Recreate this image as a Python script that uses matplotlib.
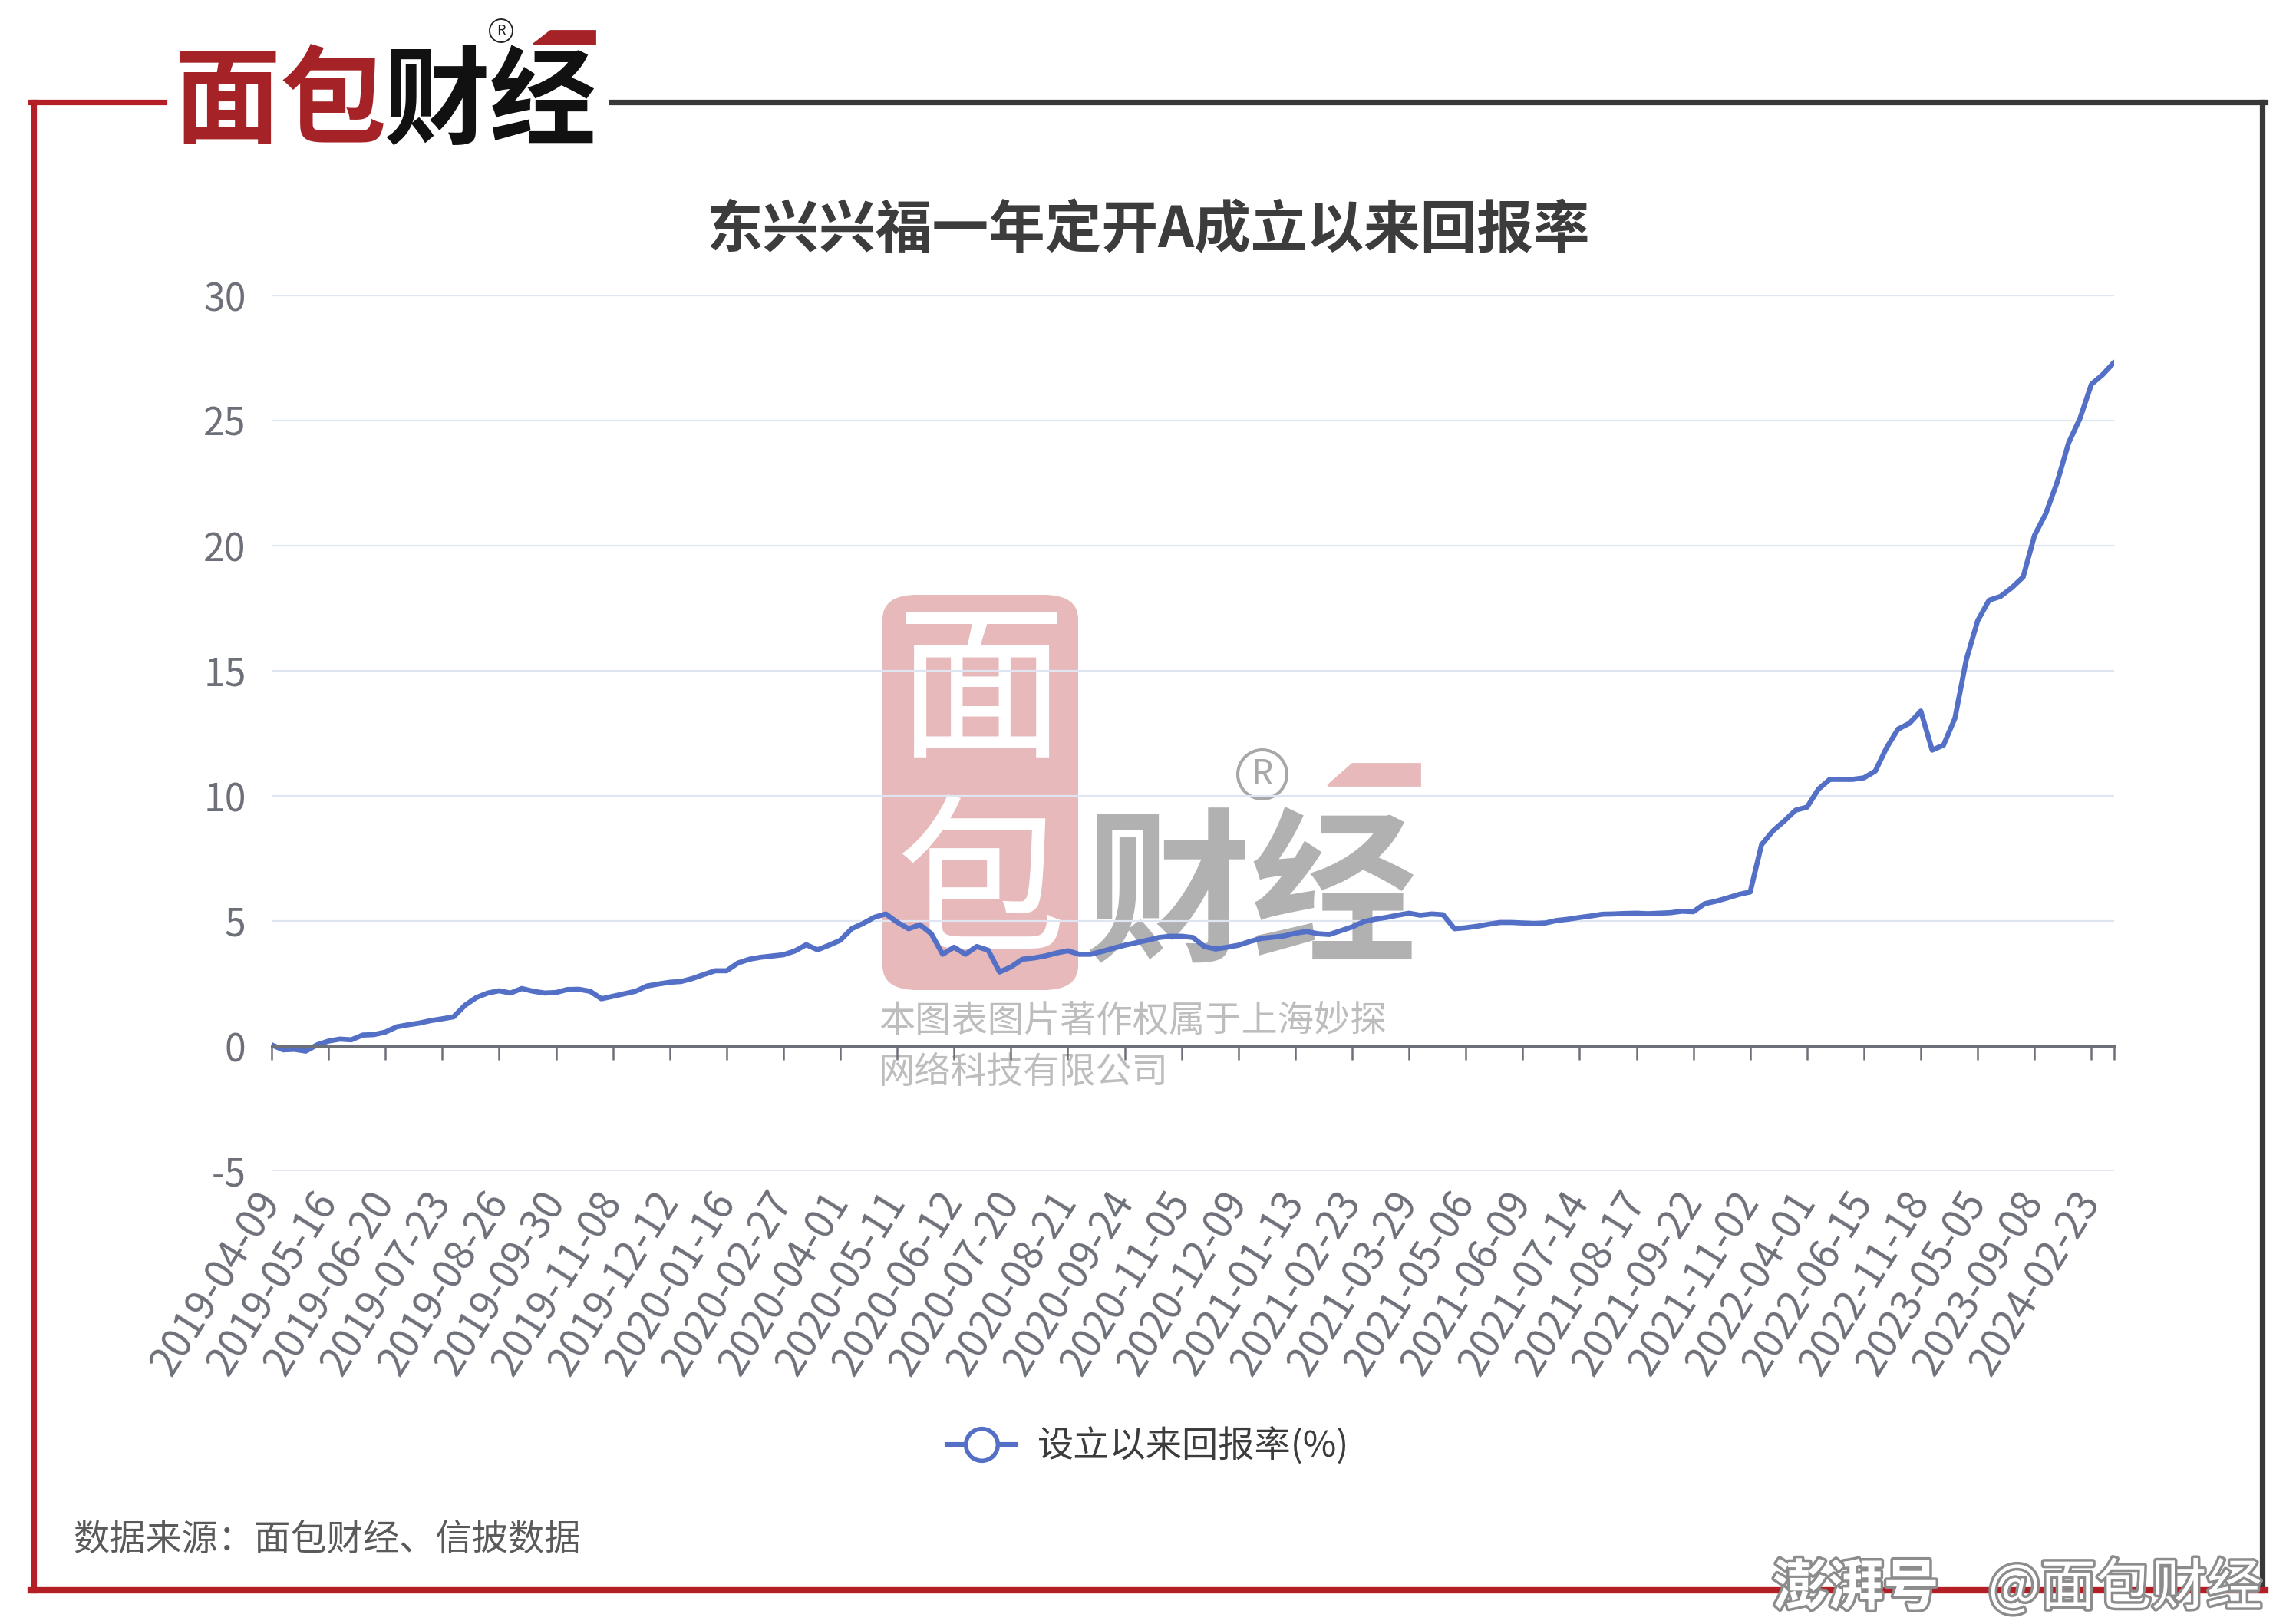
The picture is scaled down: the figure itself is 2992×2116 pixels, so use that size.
import numpy as np
import matplotlib
matplotlib.use('Agg')
import matplotlib.pyplot as plt
from matplotlib.lines import Line2D
from matplotlib.patches import Polygon, FancyBboxPatch, Ellipse
import matplotlib.patheffects as pe

plt.rcParams['font.family'] = ['Noto Sans CJK SC', 'DejaVu Sans']
plt.rcParams['axes.unicode_minus'] = False

# ---- datos ----
title = '东兴兴福一年定开A成立以来回报率'
series_name = '设立以来回报率(%)'
source = '数据来源：面包财经、信披数据'

# etiquetas del eje x (una cada 5 puntos)
date_labels = ['2019-04-09', '2019-05-16', '2019-06-20', '2019-07-23', '2019-08-26',
               '2019-09-30', '2019-11-08', '2019-12-12', '2020-01-16', '2020-02-27',
               '2020-04-01', '2020-05-11', '2020-06-12', '2020-07-20', '2020-08-21',
               '2020-09-24', '2020-11-05', '2020-12-09', '2021-01-13', '2021-02-23',
               '2021-03-29', '2021-05-06', '2021-06-09', '2021-07-14', '2021-08-17',
               '2021-09-22', '2021-11-02', '2022-04-01', '2022-06-15', '2022-11-18',
               '2023-05-05', '2023-09-08', '2024-02-23']
label_step = 5

# rendimiento desde el inicio (%)
returns = [0.05, -0.15, -0.13, -0.20, 0.05, 0.20, 0.28, 0.25, 0.44, 0.46,
           0.56, 0.77, 0.85, 0.92, 1.02, 1.09, 1.17, 1.63, 1.94, 2.12,
           2.21, 2.12, 2.30, 2.19, 2.12, 2.14, 2.26, 2.27, 2.19, 1.89,
           1.99, 2.09, 2.19, 2.40, 2.48, 2.55, 2.58, 2.70, 2.86, 3.01,
           3.01, 3.32, 3.47, 3.55, 3.60, 3.65, 3.80, 4.05, 3.85, 4.03,
           4.23, 4.69, 4.90, 5.15, 5.28, 4.95, 4.69, 4.85, 4.49, 3.67,
           3.95, 3.67, 3.98, 3.83, 2.96, 3.16, 3.47, 3.52, 3.60, 3.72,
           3.81, 3.67, 3.67, 3.78, 3.91, 4.03, 4.13, 4.23, 4.34, 4.39,
           4.39, 4.34, 3.98, 3.88, 3.95, 4.03, 4.18, 4.30, 4.35, 4.40,
           4.51, 4.58, 4.49, 4.46, 4.61, 4.76, 4.97, 5.07, 5.14, 5.23,
           5.31, 5.23, 5.28, 5.25, 4.69, 4.73, 4.79, 4.87, 4.94, 4.94,
           4.92, 4.90, 4.92, 5.02, 5.07, 5.14, 5.20, 5.27, 5.28, 5.30,
           5.31, 5.29, 5.31, 5.33, 5.39, 5.37, 5.69, 5.79, 5.92, 6.06,
           6.16, 8.05, 8.60, 9.00, 9.43, 9.55, 10.27, 10.66, 10.66, 10.66,
           10.72, 10.99, 11.93, 12.67, 12.90, 13.39, 11.83, 12.03, 13.10, 15.44,
           17.00, 17.82, 17.97, 18.32, 18.75, 20.41, 21.29, 22.55, 24.11, 25.09,
           26.45, 26.84, 27.33]

yticks = [-5, 0, 5, 10, 15, 20, 25, 30]

# ---- figura ----
W, H = 2992, 2116
def fx(x):
    return x / W
def fy(y):
    return 1 - y / H

blue = '#5470c6'
gris_eje = '#6e7079'
rojo = '#b31f25'
rosa = '#e0a2a3'

fig = plt.figure(figsize=(W / 200, H / 200), dpi=200)
fig.patch.set_facecolor('white')

ax = fig.add_axes([fx(354), fy(1526), fx(2755) - fx(354), fy(385) - fy(1526)])
ax.patch.set_visible(False)  # fondo transparente: la marca de agua queda detras
x = np.arange(len(returns))
ax.plot(x, returns, color=blue, lw=2.4, zorder=3, solid_joinstyle='round', solid_capstyle='round')
ax.set_xlim(0, len(returns) - 1)
ax.set_ylim(yticks[0], yticks[-1])
ax.set_yticks(yticks)
ax.grid(axis='y', color='#e0e6f1', lw=0.8)
ax.set_axisbelow(True)
for s in ['top', 'right', 'left']:
    ax.spines[s].set_visible(False)
ax.spines['bottom'].set_position(('data', 0))
ax.spines['bottom'].set_color(gris_eje)
ax.spines['bottom'].set_linewidth(1.1)
ax.spines['bottom'].set_zorder(4)

tick_pos = list(range(0, len(returns), label_step))
if tick_pos[-1] != len(returns) - 1:
    tick_pos.append(len(returns) - 1)
ax.set_xticks(tick_pos)
ax.tick_params(axis='x', direction='out', length=6.5, width=0.9, color=gris_eje, labelbottom=False)
ax.tick_params(axis='y', length=0, pad=12, labelsize=18, labelcolor=gris_eje)

# etiquetas de fecha debajo del area de graficas
sec = ax.secondary_xaxis('bottom')
sec.set_xticks([i * label_step for i in range(len(date_labels))], date_labels)
sec.spines['bottom'].set_visible(False)
sec.tick_params(length=0, pad=11, labelsize=19, labelcolor=gris_eje)
plt.setp(sec.get_xticklabels(), rotation=58, ha='right', va='center', rotation_mode='anchor')

# titulo
fig.text(0.5, fy(301), title, ha='center', va='center', fontsize=26.5,
         fontweight='bold', color='#3c3c3c')

# leyenda
handle = Line2D([], [], color=blue, lw=2.2, marker='o', markersize=15,
                markerfacecolor='white', markeredgecolor=blue, markeredgewidth=2.0)
fig.legend(handles=[handle], labels=[series_name], loc='center',
           bbox_to_anchor=(0.5, fy(1885)), frameon=False, fontsize=17,
           handlelength=1.9, handletextpad=0.6, labelcolor='#3c3c3c')

# fuente
fig.text(fx(95), fy(2007), source, ha='left', va='center', fontsize=17, color='#5a5a5a')

# marco
lw_marco = 2.6
fig.add_artist(Line2D([fx(40), fx(214)], [fy(133), fy(133)], color=rojo, lw=lw_marco))
fig.add_artist(Line2D([fx(44), fx(44)], [fy(133), fy(2072)], color=rojo, lw=lw_marco))
fig.add_artist(Line2D([fx(797), fx(2952)], [fy(133), fy(133)], color='#383838', lw=lw_marco))
fig.add_artist(Line2D([fx(2948), fx(2948)], [fy(133), fy(2072)], color='#383838', lw=lw_marco))
fig.add_artist(Line2D([fx(40), fx(2952)], [fy(2072), fy(2072)], color=rojo, lw=lw_marco + 0.4))


def registrado(cx, cy, r, color, size, z):
    # simbolo de marca registrada: circulo + R
    fig.add_artist(Ellipse((fx(cx), fy(cy)), 2 * r / W, 2 * r / H, transform=fig.transFigure,
                           facecolor='none', edgecolor=color, lw=max(0.6, r / 22), zorder=z))
    fig.text(fx(cx), fy(cy), 'R', ha='center', va='center', fontsize=size, color=color, zorder=z)


# logo superior
fig.text(fx(226), fy(136), '面包', ha='left', va='center', fontsize=50,
         fontweight='bold', color='#a52226')
fig.text(fx(500), fy(136), '财经', ha='left', va='center', fontsize=50,
         fontweight='bold', color='#111111')
registrado(653, 40, 15, '#222222', 6.5, 5)
fig.add_artist(Polygon([[fx(717), fy(40)], [fx(775), fy(40)], [fx(775), fy(57)], [fx(695), fy(57)]],
                       closed=True, color='#a52226', transform=fig.transFigure))

# marca de agua central (detras de la curva)
zw = -1
bloque = FancyBboxPatch((fx(1150), fy(1290)), fx(1405) - fx(1150), fy(775) - fy(1290),
                        boxstyle='round,pad=0,rounding_size=0.015', transform=fig.transFigure,
                        facecolor='#e8b9ba', edgecolor='none', zorder=zw - 1)
fig.add_artist(bloque)
fig.text(fx(1278), fy(905), '面', ha='center', va='center', fontsize=80,
         fontweight='normal', color='white', zorder=zw)
fig.text(fx(1278), fy(1160), '包', ha='center', va='center', fontsize=80,
         fontweight='normal', color='white', zorder=zw)
fig.text(fx(1630), fy(1172), '财经', ha='center', va='center', fontsize=78,
         fontweight='bold', color='#b1b1b1', zorder=zw)
registrado(1645, 1009, 32, '#a8a8a8', 16, zw)
fig.add_artist(Polygon([[fx(1762), fy(995)], [fx(1850), fy(995)], [fx(1850), fy(1023)], [fx(1730), fy(1023)]],
                       closed=True, color='#e8b9ba', transform=fig.transFigure, zorder=zw))
fig.text(fx(1145), fy(1330), '本图表图片著作权属于上海妙探', ha='left', va='center',
         fontsize=17, color='#bdbdbd', zorder=zw)
fig.text(fx(1145), fy(1398), '网络科技有限公司', ha='left', va='center',
         fontsize=17, color='#bdbdbd', zorder=zw)

# marca de agua inferior derecha
efecto = [pe.withStroke(linewidth=2.5, foreground='#8c8c8c')]
fig.text(fx(2310), fy(2070), '澎湃号', ha='left', va='center', fontsize=26, fontweight='bold',
         fontstyle='italic', color='white', path_effects=efecto, zorder=11)
fig.text(fx(2948), fy(2070), '@面包财经', ha='right', va='center', fontsize=26,
         color='white', path_effects=efecto, zorder=11)

fig.savefig('out.png', dpi=200, facecolor='white')
